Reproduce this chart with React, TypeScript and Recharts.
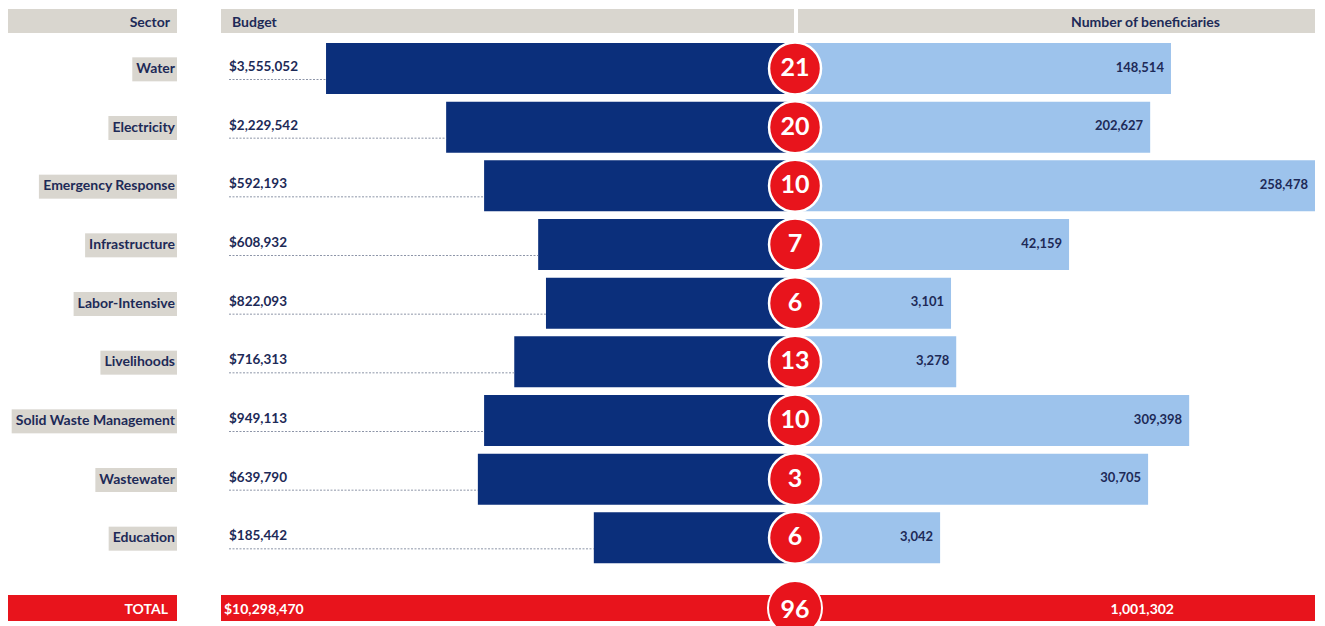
import { BarChart, Bar, XAxis, YAxis, LabelList } from 'recharts'

const sectors = [
  'Water',
  'Electricity',
  'Emergency Response',
  'Infrastructure',
  'Labor-Intensive',
  'Livelihoods',
  'Solid Waste Management',
  'Wastewater',
  'Education',
]
const budgets = [3555052, 2229542, 592193, 608932, 822093, 716313, 949113, 639790, 185442]
const projects = [21, 20, 10, 7, 6, 13, 10, 3, 6]
const beneficiaries = [148514, 202627, 258478, 42159, 3101, 3278, 309398, 30705, 3042]
// bar lengths as drawn in the infographic (not to scale with the labels), index 0-100
const budgetBar = [90.2, 67.1, 59.8, 49.4, 47.9, 54.0, 59.8, 61.0, 38.7]
const beneficiaryBar = [72.3, 68.3, 100, 52.7, 30.0, 31.0, 75.8, 67.9, 27.9]

const totalBudget = 10298470
const totalProjects = 96
const totalBeneficiaries = 1001302

const rows = sectors.map((sector, i) => ({
  sector,
  budget: budgets[i],
  projects: projects[i],
  beneficiaries: beneficiaries[i],
  left: -budgetBar[i],
  right: beneficiaryBar[i],
}))

const NAVY = '#0b2f7b'
const LIGHT = '#9dc3ec'
const RED = '#e8141c'
const GRAY = '#d9d6cf'
const TEXT = '#1d2a57'
const FONT = 'Lato, "Open Sans", sans-serif'

const fmt = (n: number) => n.toLocaleString('en-US')

let measureCtx: CanvasRenderingContext2D | null = null
function textWidth(text: string, font: string) {
  if (!measureCtx) measureCtx = document.createElement('canvas').getContext('2d')
  if (!measureCtx) return text.length * 7.5
  measureCtx.font = font
  return measureCtx.measureText(text).width
}

function SectorTick(props: any) {
  const { x, y, payload } = props
  const label = String(payload.value)
  const w = textWidth(label, `700 14px ${FONT}`)
  return (
    <g>
      <rect x={x - w - 5} y={y - 11} width={w + 6} height={24} fill={GRAY} />
      <text x={x - 1} y={y + 1} textAnchor="end" dominantBaseline="middle" fill={TEXT} fontSize={14} fontWeight={700} fontFamily={FONT}>
        {label}
      </text>
    </g>
  )
}

function BudgetLabel(props: any) {
  const { x, y, width, height, value } = props
  const edge = Math.min(x, x + width)
  const cy = y + height / 2
  return (
    <g>
      <line x1={229} x2={edge} y1={cy + 11} y2={cy + 11} stroke="#8d95a8" strokeWidth={1} strokeDasharray="2 1.5" />
      <text x={229} y={cy - 1} dominantBaseline="middle" fill={TEXT} fontSize={13.5} fontWeight={700} fontFamily={FONT}>
        {'$' + fmt(value)}
      </text>
    </g>
  )
}

function BeneficiaryLabel(props: any) {
  const { x, y, width, height, value } = props
  return (
    <text x={x + width - 7} y={y + height / 2} textAnchor="end" dominantBaseline="middle" fill={TEXT} fontSize={13} fontWeight={700} fontFamily={FONT}>
      {fmt(value)}
    </text>
  )
}

function ProjectBadge(props: any) {
  const { x, y, height, value } = props
  const cy = y + height / 2
  return (
    <g>
      <circle cx={x} cy={cy} r={26} fill={RED} stroke="#ffffff" strokeWidth={2.5} />
      <text x={x} y={cy + 1} textAnchor="middle" dominantBaseline="middle" fill="#ffffff" fontSize={25} fontWeight={700} fontFamily={FONT}>
        {value}
      </text>
    </g>
  )
}

const bandStyle = (left: number, width: number, top: number, height: number, bg: string): React.CSSProperties => ({
  position: 'absolute',
  left,
  top,
  width,
  height,
  background: bg,
  fontFamily: FONT,
  fontWeight: 700,
  fontSize: 14,
  display: 'flex',
  alignItems: 'center',
  boxSizing: 'border-box',
})

export default function App() {
  return (
    <div style={{ position: 'absolute', left: 0, top: 0, width: 1325, height: 626, background: '#ffffff', overflow: 'hidden' }}>
      {/* header row */}
      <div style={{ ...bandStyle(8, 169, 9, 24, GRAY), justifyContent: 'flex-end', paddingRight: 7, color: TEXT }}>Sector</div>
      <div style={{ ...bandStyle(221, 573, 9, 24, GRAY), paddingLeft: 11, color: TEXT }}>Budget</div>
      <div style={{ ...bandStyle(798, 517, 9, 24, GRAY), justifyContent: 'flex-end', paddingRight: 95, color: TEXT }}>Number of beneficiaries</div>

      <div style={{ position: 'absolute', left: 0, top: 0 }}>
        <BarChart
          width={1325}
          height={626}
          data={rows}
          layout="vertical"
          stackOffset="sign"
          margin={{ top: 39, right: 10, bottom: 59, left: 0 }}
        >
          <XAxis type="number" domain={[-110.4, 100]} hide />
          <YAxis
            type="category"
            dataKey="sector"
            width={221}
            axisLine={false}
            tickLine={false}
            tickSize={0}
            tickMargin={45}
            tick={<SectorTick />}
            interval={0}
          />
          <Bar dataKey="left" stackId="s" fill={NAVY} barSize={51} isAnimationActive={false}>
            <LabelList dataKey="budget" content={<BudgetLabel />} />
          </Bar>
          <Bar dataKey="right" stackId="s" fill={LIGHT} barSize={51} isAnimationActive={false}>
            <LabelList dataKey="beneficiaries" content={<BeneficiaryLabel />} />
            <LabelList dataKey="projects" content={<ProjectBadge />} />
          </Bar>
        </BarChart>
      </div>

      {/* total row */}
      <div style={{ ...bandStyle(8, 169, 595, 26, RED), justifyContent: 'flex-end', paddingRight: 9, color: '#ffffff' }}>TOTAL</div>
      <div style={{ ...bandStyle(221, 1094, 595, 26, RED), paddingLeft: 3, color: '#ffffff' }}>
        <span>{'$' + fmt(totalBudget)}</span>
        <span style={{ position: 'absolute', right: 141 }}>{fmt(totalBeneficiaries)}</span>
      </div>
      <div
        style={{
          position: 'absolute',
          left: 795 - 28,
          top: 608 - 28,
          width: 56,
          height: 56,
          borderRadius: '50%',
          background: RED,
          border: '2.5px solid #ffffff',
          boxSizing: 'border-box',
          color: '#ffffff',
          fontFamily: FONT,
          fontWeight: 700,
          fontSize: 25,
          display: 'flex',
          alignItems: 'center',
          justifyContent: 'center',
        }}
      >
        {totalProjects}
      </div>
    </div>
  )
}
